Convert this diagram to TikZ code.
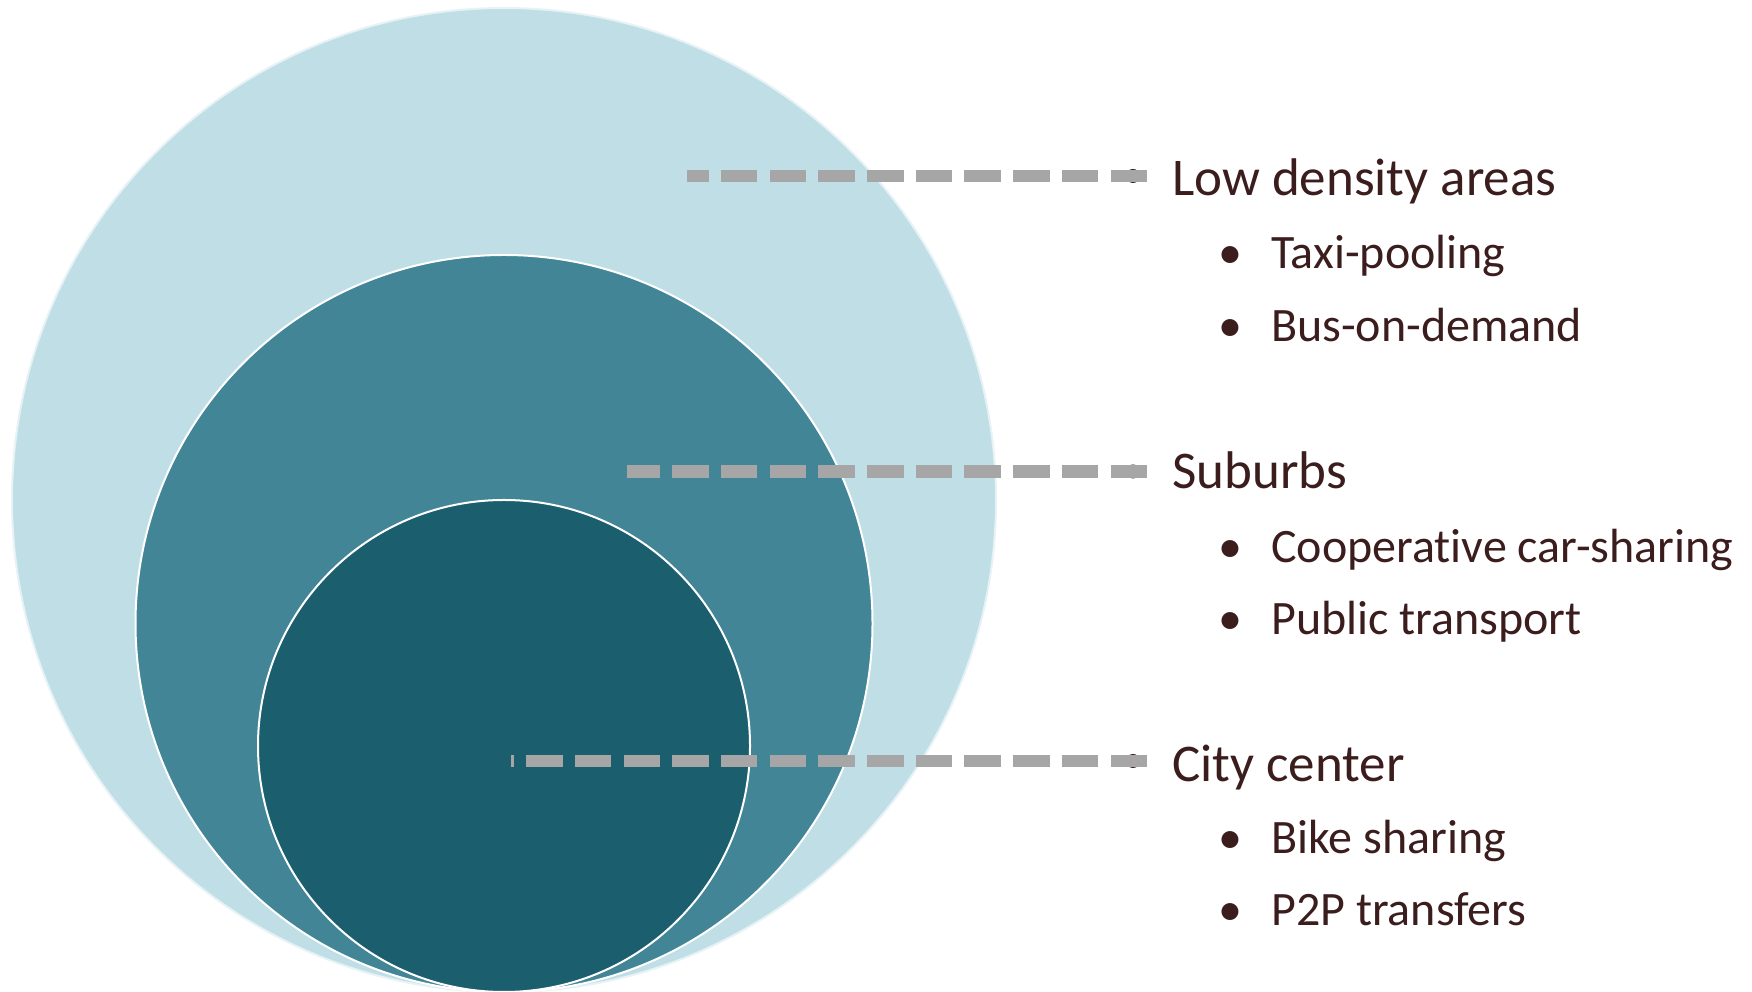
\documentclass[tikz,border=0pt]{standalone}
\usepackage{fontspec}
\setmainfont{Carlito}[Ligatures={NoCommon}]
\usetikzlibrary{positioning}

\definecolor{outerring}{HTML}{C0DEE5}
\definecolor{midring}{HTML}{428597}
\definecolor{innerring}{HTML}{1B5E6E}
\definecolor{leadgrey}{HTML}{A6A6A6}
\definecolor{ink}{HTML}{3B1D1D}

\begin{document}
\begin{tikzpicture}[x=1pt,y=1pt,
	ring/.style={circle,draw=white,line width=2pt,inner sep=0pt,minimum size=#1},
	leader/.style={draw=leadgrey,line width=12.2pt,dash pattern=on 36.5pt off 12.2pt},
	zone/.style={anchor=base west,inner sep=0pt,text=ink,font=\fontsize{53}{60}\selectfont},
	item/.style={zone,font=\fontsize{48}{56}\selectfont},
	bul/.style={item,anchor=base},
	dot/.style={circle,fill=ink,inner sep=0pt,minimum size=14pt}]
	\useasboundingbox (0,0) rectangle (1752,992);

	% three nested zones, all touching at the bottom
	\node[ring=984pt,fill=outerring,draw=white!60!outerring] (outer) at (504,492) {};
	\node[ring=737pt,fill=midring] (middle) at (504,368.5) {};
	\node[ring=492pt,fill=innerring] (inner) at (504,246) {};

	% leader lines (dashes start from the text side)
	\node[dot] (lowdot) at (1133,816) {};
	\node[dot] (subdot) at (1133,520.5) {};
	\node[dot] (citydot) at (1133,231) {};
	\coordinate (lowtip) at (1147,816);   \coordinate (lowend) at (687,816);
	\coordinate (subtip) at (1147,520.5); \coordinate (subend) at (627,520.5);
	\coordinate (citytip) at (1147,231);  \coordinate (cityend) at (511,231);
	\draw[leader] (lowtip) -- (lowend);
	\draw[leader] (subtip) -- (subend);
	\draw[leader] (citytip) -- (cityend);

	% labels
	\node[zone] (lowtext) at (1172,796) {Low density areas};
	\node[bul] at (1230,723) {\textbullet}; \node[item] (taxi) at (1271,723) {Taxi-pooling};
	\node[bul] at (1230,650) {\textbullet}; \node[item] (bus) at (1271,650) {Bus-on-demand};

	\node[zone] (subtext) at (1172,503) {Suburbs};
	\node[bul] at (1230,429) {\textbullet}; \node[item] (coop) at (1271,429) {Cooperative car-sharing};
	\node[bul] at (1230,357) {\textbullet}; \node[item] (public) at (1271,357) {Public transport};

	\node[zone] (citytext) at (1172,210) {City center};
	\node[bul] at (1230,138) {\textbullet}; \node[item] (bike) at (1271,138) {Bike sharing};
	\node[bul] at (1230,66) {\textbullet}; \node[item] (p2p) at (1271,66) {P2P transfers};
\end{tikzpicture}
\end{document}
